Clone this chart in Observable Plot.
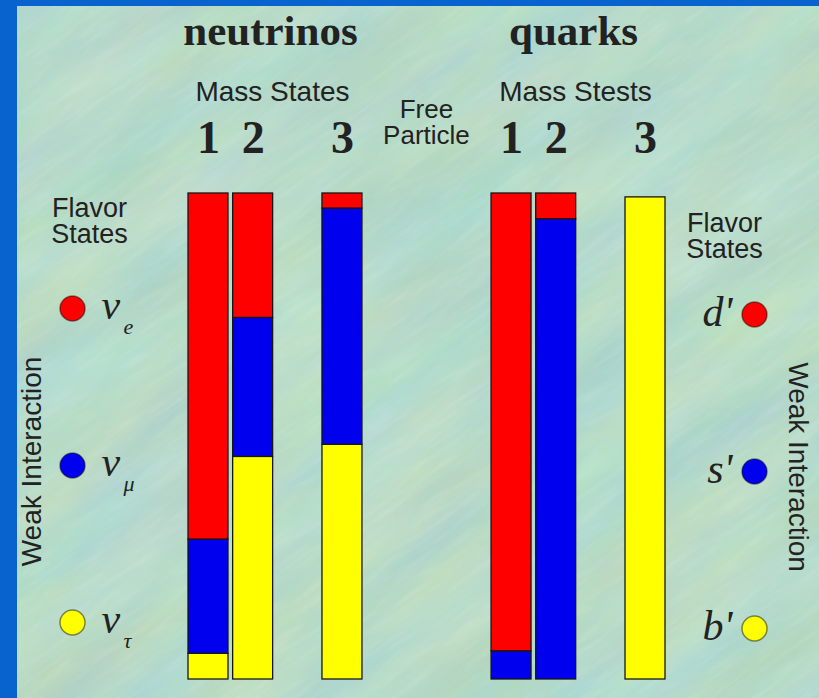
<!DOCTYPE html>
<html>
<head>
<meta charset="utf-8">
<script src="https://cdn.jsdelivr.net/npm/d3@7"></script>
<script src="https://cdn.jsdelivr.net/npm/@observablehq/plot@0.6"></script>
<style>
  html, body { margin: 0; padding: 0; background: #0863cf; }
  #slide { position: relative; width: 819px; height: 698px; overflow: hidden; background: #0863cf; }
  #panel { position: absolute; left: 17px; top: 6px; }
  #slide > svg.layer { position: absolute; top: 0; }
</style>
</head>
<body>
<div id="slide">
  <!-- mottled paper behind the diagram -->
  <svg id="panel" width="802" height="692">
    <defs>
      <filter id="mottle" filterUnits="userSpaceOnUse" x="-500" y="-500" width="1800" height="1700" color-interpolation-filters="sRGB">
        <feTurbulence type="fractalNoise" baseFrequency="0.005 0.018" numOctaves="5" seed="11"/>
        <feColorMatrix type="matrix" values="0.12 0.05 0 0 0.63  0.03 0.08 0 0 0.8  -0.05 0 0.12 0 0.75  0 0 0 0 1"/>
      </filter>
      <filter id="grain" filterUnits="userSpaceOnUse" x="-500" y="-500" width="1800" height="1700" color-interpolation-filters="sRGB">
        <feTurbulence type="fractalNoise" baseFrequency="0.02 0.16" numOctaves="3" seed="4"/>
        <feColorMatrix type="matrix" values="0 0 0 0 1  0 0 0 0 1  0 0 0 0 1  1.6 0 0 0 -0.75"/>
      </filter>
    </defs>
    <g transform="rotate(-35 401 346)">
      <rect x="-400" y="-400" width="1600" height="1500" filter="url(#mottle)"/>
      <rect x="-400" y="-400" width="1600" height="1500" filter="url(#grain)" opacity="0.16"/>
    </g>
  </svg>
</div>
<script>
// Particle families and their mass-state columns
const groups = ["neutrinos", "quarks"];
const groupCaptions = ["Mass States", "Mass Stests"];
const massStates = ["1", "2", "3"];
const freeLabel = "Free\nParticle";

// Flavor states, one per generation
const generations = ["first", "second", "third"];
const generationColors = ["#ff0000", "#0000ee", "#ffff00"];
const neutrinoFlavors = ["e", "μ", "τ"];
const quarkFlavors = ["d'", "s'", "b'"];

// Share of each neutrino mass state (1, 2, 3) carried by νe, νμ, ντ
const nuE = [0.712, 0.256, 0.031];
const nuMu = [0.235, 0.286, 0.486];
const nuTau = [0.053, 0.458, 0.483];

// Share of each quark mass state (1, 2, 3) carried by d', s', b'
const quarkD = [0.942, 0.053, 0];
const quarkS = [0.058, 0.947, 0];
const quarkB = [0, 0, 0.992];

const shares = {neutrinos: [nuE, nuMu, nuTau], quarks: [quarkD, quarkS, quarkB]};

// One stacked segment per (family, mass state, flavor); third generation at the bottom
const segments = [];
for (const group of groups) {
  massStates.forEach((state, i) => {
    for (let f = generations.length - 1; f >= 0; --f) {
      const p = shares[group][f][i];
      if (p > 0) segments.push({group, state, generation: generations[f], p});
    }
  });
}
const stateLabels = groups.flatMap((group) => massStates.map((state) => ({group, state})));

const sans = "Liberation Sans, Arial, Helvetica, sans-serif";
const serif = "Liberation Serif, Times New Roman, serif";
const ink = "#222";
const spacer = "·"; // empty slot that sets mass state 3 apart

const color = {domain: generations, range: generationColors};
const layerStyle = {background: "transparent", color: ink, overflow: "visible"};

const main = Plot.plot({
  width: 819,
  height: 698,
  marginTop: 193,
  marginBottom: 19,
  marginLeft: 188,
  marginRight: 154,
  style: layerStyle,
  fx: {domain: groups, paddingInner: 0.426, paddingOuter: 0, round: false, axis: null},
  x: {domain: ["1", "2", spacer, "3"], paddingInner: 0.1045, paddingOuter: 0, round: false, axis: null},
  y: {domain: [0, 1], axis: null},
  color,
  marks: [
    Plot.barY(segments, {
      fx: "group", x: "state", y: "p", fill: "generation",
      stroke: "#161616", strokeWidth: 1.3
    }),
    Plot.text(groups, {
      fx: (d) => d, text: (d) => d, frameAnchor: "top", lineAnchor: "bottom",
      dx: -5, dy: -149, fontFamily: serif, fontWeight: "bold", fontSize: 43
    }),
    Plot.text(groups, {
      fx: (d) => d, text: (d, i) => groupCaptions[i], frameAnchor: "top", lineAnchor: "bottom",
      dx: -3, dy: -93, fontFamily: sans, fontSize: 28
    }),
    Plot.text(stateLabels, {
      fx: "group", x: "state", text: "state", frameAnchor: "top", lineAnchor: "bottom",
      dy: -41, fontFamily: serif, fontWeight: "bold", fontSize: 46
    }),
    Plot.text([freeLabel], {
      fx: () => groups[0], text: (d) => d, frameAnchor: "top-right", textAnchor: "middle", lineAnchor: "bottom",
      dx: 64, dy: -50, lineHeight: 0.97, fontFamily: sans, fontSize: 26
    })
  ]
});

// Neutrino flavor key, left side
const left = Plot.plot({
  width: 186,
  height: 698,
  marginTop: 308,
  marginBottom: 76,
  marginLeft: 72,
  marginRight: 0,
  style: layerStyle,
  y: {type: "point", domain: neutrinoFlavors, padding: 0, axis: null},
  color,
  marks: [
    Plot.dot(neutrinoFlavors, {
      y: (d) => d, frameAnchor: "left", r: 12.5,
      fill: (d, i) => generations[i], stroke: "#000", strokeOpacity: 0.45, strokeWidth: 1.5
    }),
    Plot.text(neutrinoFlavors, {
      y: (d) => d, text: () => "ν", frameAnchor: "left", textAnchor: "start", lineAnchor: "bottom",
      dx: 29, dy: 10, fontFamily: serif, fontStyle: "italic", fontSize: 42
    }),
    Plot.text(neutrinoFlavors, {
      y: (d) => d, text: (d) => d, frameAnchor: "left", textAnchor: "start", lineAnchor: "bottom",
      dx: 51, dy: 25, fontFamily: serif, fontStyle: "italic", fontSize: 22
    }),
    Plot.text(["Flavor\nStates"], {
      text: (d) => d, frameAnchor: "top-left", textAnchor: "middle", lineAnchor: "bottom",
      dx: 17, dy: -66, lineHeight: 0.95, fontFamily: sans, fontSize: 27
    }),
    Plot.text(["Weak Interaction"], {
      text: (d) => d, frameAnchor: "left", textAnchor: "middle", rotate: -90,
      dx: -40, dy: -4, fontFamily: sans, fontSize: 28
    })
  ]
});

// Quark flavor key, right side
const right = Plot.plot({
  width: 159,
  height: 698,
  marginTop: 313,
  marginBottom: 70,
  marginLeft: 0,
  marginRight: 65,
  style: layerStyle,
  y: {type: "point", domain: quarkFlavors, padding: 0, axis: null},
  color,
  marks: [
    Plot.dot(quarkFlavors, {
      y: (d) => d, frameAnchor: "right", r: 12.5,
      fill: (d, i) => generations[i], stroke: "#000", strokeOpacity: 0.45, strokeWidth: 1.5
    }),
    Plot.text(quarkFlavors, {
      y: (d) => d, text: (d) => d, frameAnchor: "right", textAnchor: "end", lineAnchor: "bottom",
      dx: -22, dy: 11, fontFamily: serif, fontStyle: "italic", fontSize: 42
    }),
    Plot.text(["Flavor\nStates"], {
      text: (d) => d, frameAnchor: "top-right", textAnchor: "middle", lineAnchor: "bottom",
      dx: -30, dy: -56, lineHeight: 0.95, fontFamily: sans, fontSize: 27
    }),
    Plot.text(["Weak Interaction"], {
      text: (d) => d, frameAnchor: "right", textAnchor: "middle", rotate: 90,
      dx: 43, dy: -4, fontFamily: sans, fontSize: 28
    })
  ]
});

const slide = document.getElementById("slide");
for (const [svg, x] of [[main, 0], [left, 0], [right, 660]]) {
  svg.classList.add("layer");
  svg.style.left = x + "px";
  slide.appendChild(svg);
}
</script>
</body>
</html>
